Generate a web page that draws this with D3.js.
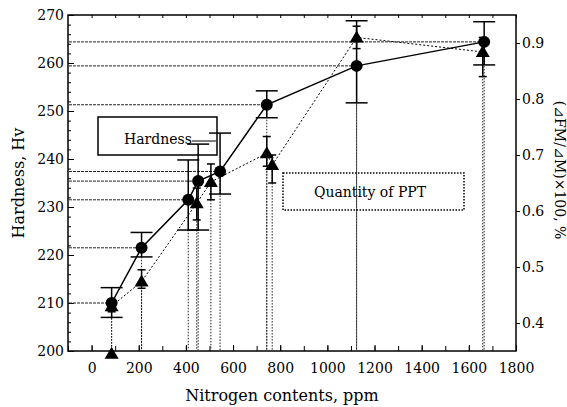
<!DOCTYPE html>
<html>
<head>
<meta charset="utf-8">
<script src="https://cdn.jsdelivr.net/npm/d3@7"></script>
<style>
  body { margin: 0; background: #fff; }
  svg { display: block; font-family: "DejaVu Serif", "Liberation Serif", serif; }
</style>
</head>
<body>
<svg id="chart" width="567" height="407"></svg>
<script>
// hardness series (filled circles, solid line), left axis
var hvNitrogen = [85, 212, 410, 452, 545, 743, 1124, 1665];
var hardness   = [210, 221.5, 231.5, 235.4, 237.4, 251.3, 259.4, 264.4];
var hardnessHi = [213.2, 224.7, 239.8, 243.1, 245.4, 254.2, 268.8, 268.6];
var hardnessLo = [207, 219.6, 225.2, 225.2, 232.7, 248.6, 251.7, 259.6];

// quantity of PPT series (filled triangles, dotted line), right axis
var pptNitrogen = [85, 212, 446, 506, 743, 766, 1124, 1659];
var ppt   = [0.43, 0.474, 0.614, 0.652, 0.703, 0.682, 0.91, 0.884];
var pptHi = [0.44, 0.495, 0.641, 0.684, 0.733, 0.70, 0.93, 0.91];
var pptLo = [0.42, 0.462, 0.584, 0.62, 0.68, 0.65, 0.89, 0.84];

// triangle drawn on the x axis below the first sample
var offScaleNitrogen = [85];

var xTicks = [0, 200, 400, 600, 800, 1000, 1200, 1400, 1600, 1800];
var hvTicks = [200, 210, 220, 230, 240, 250, 260, 270];
var pptTicks = [0.4, 0.5, 0.6, 0.7, 0.8, 0.9];

var svg = d3.select("#chart");

var x = d3.scaleLinear().domain([-100, 1800]).range([68, 516]);
var yH = d3.scaleLinear().domain([200, 270]).range([351, 15]);
var yP = d3.scaleLinear().domain([0.35, 0.95]).range([351, 15]);

var hvData = hvNitrogen.map(function (n, i) {
    return {n: n, v: hardness[i], hi: hardnessHi[i], lo: hardnessLo[i]};
});
var pptData = pptNitrogen.map(function (n, i) {
    return {n: n, v: ppt[i], hi: pptHi[i], lo: pptLo[i]};
});

// ---- axes ----
function clean(g) {
    g.select(".domain").remove();
    g.selectAll("line").attr("stroke", "#000").attr("stroke-width", 1);
    g.selectAll("text").attr("fill", "#000").attr("font-size", 14)
        .attr("font-family", "DejaVu Serif, serif");
}

// left: major inward ticks + minor
svg.append("g").attr("transform", "translate(68,0)")
    .call(d3.axisLeft(yH).tickValues(d3.range(200, 271, 2)).tickSize(-3).tickFormat(""))
    .call(clean);
svg.append("g").attr("transform", "translate(68,0)")
    .call(d3.axisLeft(yH).tickValues(hvTicks).tickSize(-6).tickPadding(4).tickFormat(d3.format("d")))
    .call(clean);

// bottom
svg.append("g").attr("transform", "translate(0,351)")
    .call(d3.axisBottom(x).tickValues(d3.range(-100, 1801, 100)).tickSize(-5).tickFormat(""))
    .call(clean);
svg.append("g").attr("transform", "translate(0,351)")
    .call(d3.axisBottom(x).tickValues(xTicks).tickSize(-6).tickPadding(12).tickFormat(d3.format("d")))
    .call(clean);

// top (ticks only)
svg.append("g").attr("transform", "translate(0,15)")
    .call(d3.axisTop(x).tickValues(d3.range(0, 1801, 100)).tickSize(-3).tickFormat(""))
    .call(clean);

// right: outward ticks
svg.append("g").attr("transform", "translate(516,0)")
    .call(d3.axisRight(yP).tickValues(pptTicks).tickSize(4).tickPadding(2).tickFormat(d3.format(".1f")))
    .call(clean);

// frame
svg.append("rect")
    .attr("x", 68).attr("y", 15)
    .attr("width", 516 - 68).attr("height", 351 - 15)
    .attr("fill", "none").attr("stroke", "#000").attr("stroke-width", 1.5);

// ---- guide lines ----
var guides = svg.append("g").attr("stroke", "#222").attr("fill", "none");

// horizontal dashed from left axis to each hardness point
guides.selectAll(".hguide").data(hvData).enter().append("line")
    .attr("class", "hguide")
    .attr("x1", 69).attr("x2", function (d) { return x(d.n); })
    .attr("y1", function (d) { return yH(d.v); })
    .attr("y2", function (d) { return yH(d.v); })
    .attr("stroke-width", 1)
    .attr("stroke-dasharray", "3,1");

// vertical drop lines to the x axis
guides.selectAll(".vguideH").data(hvData).enter().append("line")
    .attr("class", "vguideH")
    .attr("x1", function (d) { return x(d.n); })
    .attr("x2", function (d) { return x(d.n); })
    .attr("y1", function (d) { return yH(d.v); })
    .attr("y2", 350)
    .attr("stroke-width", 1)
    .attr("stroke-dasharray", "1.5,1.5");

guides.selectAll(".vguideP").data(pptData).enter().append("line")
    .attr("class", "vguideP")
    .attr("x1", function (d) { return x(d.n); })
    .attr("x2", function (d) { return x(d.n); })
    .attr("y1", function (d) { return yP(d.v); })
    .attr("y2", 350)
    .attr("stroke-width", 1)
    .attr("stroke-dasharray", "1.5,1.5");

// ---- legend boxes ----
svg.append("rect")
    .attr("x", 98).attr("y", 117).attr("width", 119).attr("height", 38)
    .attr("fill", "#fff").attr("stroke", "#000").attr("stroke-width", 1.5);
svg.append("text")
    .attr("x", 158).attr("y", 144)
    .attr("text-anchor", "middle").attr("font-size", 14)
    .text("Hardness");
svg.append("line")
    .attr("x1", 192).attr("x2", 216).attr("y1", 141).attr("y2", 141)
    .attr("stroke", "#000").attr("stroke-width", 1);

svg.append("rect")
    .attr("x", 283).attr("y", 173).attr("width", 181).attr("height", 37)
    .attr("fill", "none").attr("stroke", "#000").attr("stroke-width", 1.5)
    .attr("stroke-dasharray", "1.5,1.5");
svg.append("text")
    .attr("x", 370).attr("y", 197)
    .attr("text-anchor", "middle").attr("font-size", 14)
    .text("Quantity of PPT");

// ---- series lines ----
var hvLine = d3.line()
    .x(function (d) { return x(d.n); })
    .y(function (d) { return yH(d.v); });
var pptLine = d3.line()
    .x(function (d) { return x(d.n); })
    .y(function (d) { return yP(d.v); });

svg.append("path").datum(pptData)
    .attr("d", pptLine)
    .attr("fill", "none").attr("stroke", "#000").attr("stroke-width", 1)
    .attr("stroke-dasharray", "2,2");

svg.append("path").datum(hvData)
    .attr("d", hvLine)
    .attr("fill", "none").attr("stroke", "#000").attr("stroke-width", 1.5);

// ---- error bars ----
function errorBars(data, yScale, half, cls) {
    var g = svg.append("g").attr("stroke", "#000").attr("stroke-width", 1.5);
    g.selectAll("." + cls + "v").data(data).enter().append("line")
        .attr("x1", function (d) { return x(d.n); })
        .attr("x2", function (d) { return x(d.n); })
        .attr("y1", function (d) { return yScale(d.hi); })
        .attr("y2", function (d) { return yScale(d.lo); });
    ["hi", "lo"].forEach(function (k) {
        g.selectAll("." + cls + k).data(data).enter().append("line")
            .attr("x1", function (d) { return x(d.n) - half; })
            .attr("x2", function (d) { return x(d.n) + half; })
            .attr("y1", function (d) { return yScale(d[k]); })
            .attr("y2", function (d) { return yScale(d[k]); });
    });
}
errorBars(pptData, yP, 4, "ep");
errorBars(hvData, yH, 11, "eh");

// ---- markers ----
var tri = "M0,-7L7,5L-7,5Z";

svg.selectAll(".tri").data(pptData).enter().append("path")
    .attr("class", "tri")
    .attr("d", tri)
    .attr("transform", function (d) { return "translate(" + x(d.n) + "," + yP(d.v) + ")"; })
    .attr("fill", "#000");

svg.selectAll(".offtri").data(offScaleNitrogen).enter().append("path")
    .attr("class", "offtri")
    .attr("d", tri)
    .attr("transform", function (d) { return "translate(" + x(d) + "," + yP(0.345) + ")"; })
    .attr("fill", "#000");

svg.selectAll(".dot").data(hvData).enter().append("circle")
    .attr("class", "dot")
    .attr("cx", function (d) { return x(d.n); })
    .attr("cy", function (d) { return yH(d.v); })
    .attr("r", 6)
    .attr("fill", "#000");

// ---- axis titles ----
svg.append("text")
    .attr("transform", "translate(24,183) rotate(-90)")
    .attr("text-anchor", "middle").attr("font-size", 16)
    .text("Hardness, Hv");

svg.append("text")
    .attr("x", 282).attr("y", 401)
    .attr("text-anchor", "middle").attr("font-size", 16)
    .text("Nitrogen contents, ppm");

svg.append("text")
    .attr("transform", "translate(555,170) rotate(90)")
    .attr("text-anchor", "middle").attr("font-size", 14)
    .text("(⊿FM/⊿M)×100, %");
</script>
</body>
</html>
